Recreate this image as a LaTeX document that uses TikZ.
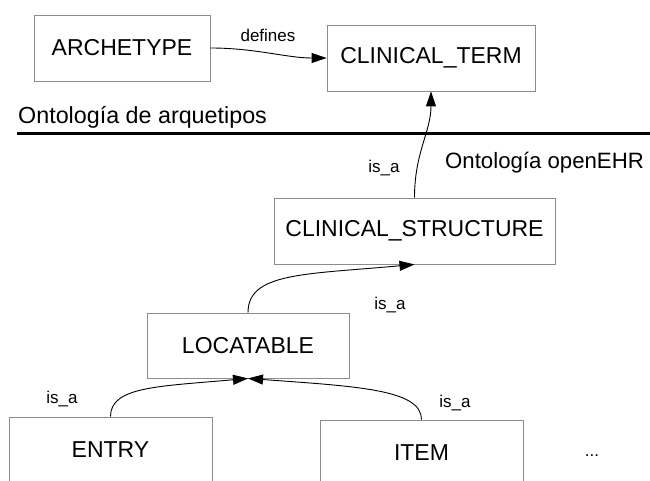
\documentclass[tikz,border=0pt]{standalone}
\usepackage{fontspec}
\setmainfont{Liberation Sans}
\usetikzlibrary{arrows.meta}
\begin{document}
\begin{tikzpicture}[x=1pt,y=1pt,
  cls/.style={draw=black!45, line width=0.9pt, fill=white, inner sep=0pt,
    font=\fontsize{23}{26}\selectfont},
  lbl/.style={inner sep=0pt, font=\fontsize{17}{20}\selectfont},
  sect/.style={inner sep=0pt, font=\fontsize{23.3}{26}\selectfont},
  rel/.style={line width=0.9pt, -{Triangle[length=15pt,width=10pt]}}]
\useasboundingbox (0,0) rectangle (650,480);
\clip (0,0) rectangle (650,480);

% classes
\node[cls, minimum width=176pt, minimum height=66pt] (arch) at (122,432) {ARCHETYPE};
\node[cls, minimum width=208pt, minimum height=66pt] (term) at (431,422) {CLINICAL\_TERM};
\node[cls, minimum width=281pt, minimum height=66pt] (struct) at (414.5,249) {CLINICAL\_STRUCTURE};
\node[cls, minimum width=202pt, minimum height=65pt] (loc) at (248,134.5) {LOCATABLE};
\node[cls, minimum width=203pt, minimum height=66pt] (entry) at (110.5,30) {ENTRY};
\node[cls, minimum width=203pt, minimum height=66pt] (item) at (421.5,27) {ITEM};
\node[lbl] (more) at (592,24) {...};

% boundary between the two ontologies
\coordinate (sepL) at (17,346);
\coordinate (sepR) at (650,346);
\draw[line width=3pt] (sepL) -- (sepR);
\node[sect, anchor=west] (ontA) at (18,363) {Ontología de arquetipos};
\node[sect, anchor=west, font=\fontsize{22.2}{26}\selectfont] (ontB) at (445,317) {Ontología openEHR};

% relations
\draw[rel] (arch.east) .. controls +(45,0) and +(-40,0) .. (term.west);
\node[lbl] (defl) at (268,445) {defines};

\draw[rel] (struct.north) .. controls +(0,45) and +(0,-40) .. (term.south);
\node[lbl] (isa1) at (384,312) {is\_a};

\draw[rel] (loc.north) .. controls +(0,40) and +(-110,-10) .. (struct.south);
\node[lbl] (isa2) at (390,175) {is\_a};

\draw[rel] (entry.north) .. controls +(0,30) and +(-90,-8) .. (loc.south);
\node[lbl] (isa3) at (62,81) {is\_a};

\draw[rel] (item.north) .. controls +(0,30) and +(110,-8) .. (loc.south);
\node[lbl] (isa4) at (455,77) {is\_a};
\end{tikzpicture}
\end{document}
